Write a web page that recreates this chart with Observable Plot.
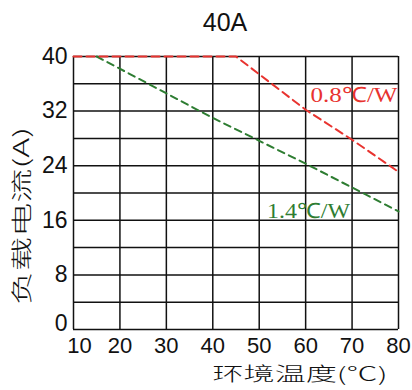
<!DOCTYPE html>
<html><head><meta charset="utf-8">
<script src="https://cdn.jsdelivr.net/npm/d3@7"></script>
<script src="https://cdn.jsdelivr.net/npm/@observablehq/plot@0.6"></script>
<style>body{margin:0;background:#fff;} svg{display:block;}</style>
</head><body><div id="chart"></div>
<script>
const title = "40A";
const xLabel = "环境温度(℃)";
const yLabel = "负载电流(A)";
const xTicks = [10, 20, 30, 40, 50, 60, 70, 80];
const yTicks = [0, 8, 16, 24, 32, 40];
const yGrid = [0, 4, 8, 12, 16, 20, 24, 28, 32, 36, 40];
const redTemp = [10, 45, 60, 70, 80];
const redAmp = [40, 40, 32.2, 27.8, 23.1];
const greenTemp = [15, 40, 60, 70, 80];
const greenAmp = [40, 31, 24.3, 20.8, 17.3];
const redName = "0.8℃/W";
const greenName = "1.4℃/W";

const red = redTemp.map((t, i) => ({t, a: redAmp[i]}));
const green = greenTemp.map((t, i) => ({t, a: greenAmp[i]}));

const chart = Plot.plot({
  width: 412, height: 390,
  marginTop: 56, marginLeft: 73, marginRight: 14, marginBottom: 61,
  style: {fontFamily: "Liberation Sans, Arial, sans-serif", fontSize: "22px", color: "#111", background: "#fff"},
  x: {domain: [10, 80], ticks: xTicks},
  y: {domain: [0, 40], ticks: yTicks},
  marks: [
    Plot.gridX(xTicks, {stroke: "#111", strokeOpacity: 1, strokeWidth: 1.5}),
    Plot.gridY(yGrid, {stroke: "#111", strokeOpacity: 1, strokeWidth: 1.5}),
    Plot.axisX(xTicks.slice(1), {tickSize: 0, tickPadding: 8, fontSize: 22, label: null}),
    Plot.axisX(xTicks.slice(0, 1), {tickSize: 0, tickPadding: 8, dx: 6, fontSize: 22, label: null}),
    Plot.axisY(yTicks.slice(1), {tickSize: 0, tickPadding: 6, fontSize: 23, label: null}),
    Plot.axisY(yTicks.slice(0, 1), {tickSize: 0, tickPadding: 6, dy: -6, fontSize: 23, label: null}),
    Plot.line(green, {x: "t", y: "a", stroke: "#2e7d32", strokeWidth: 2, strokeDasharray: "7,5"}),
    Plot.line(red, {x: "t", y: "a", stroke: "#e8332f", strokeWidth: 2, strokeDasharray: "8,5"}),
    Plot.text([redName], {x: 80, y: 34.3, dx: -1, text: d => d, textAnchor: "end", fill: "#e8332f", fontFamily: "Liberation Serif, serif", fontSize: 21}),
    Plot.text([greenName], {x: 70, y: 17.3, dx: -2, text: d => d, textAnchor: "end", fill: "#2e7d32", fontFamily: "Liberation Serif, serif", fontSize: 21}),
    Plot.text([title], {frameAnchor: "top", dy: -43, dx: -11, text: d => d, fontSize: 25}),
    Plot.text([xLabel], {frameAnchor: "bottom-right", lineAnchor: "middle", dy: 45, dx: -11, textAnchor: "end", text: d => d, fontFamily: "Noto Sans CJK SC", fontWeight: 300, fontSize: 19}),
    Plot.text([yLabel], {frameAnchor: "left", dx: -51, dy: 23, rotate: -90, textAnchor: "middle", text: d => d, fontFamily: "Noto Sans CJK SC", fontWeight: 300, fontSize: 21})
  ]
});
const fit = {[redName]: 87, [greenName]: 83, [xLabel]: 175, [yLabel]: 178};
chart.querySelectorAll("text").forEach(t => {
  const w = fit[t.textContent];
  if (w) { t.setAttribute("textLength", w); t.setAttribute("lengthAdjust", "spacingAndGlyphs"); }
});
document.getElementById("chart").appendChild(chart);
</script></body></html>
